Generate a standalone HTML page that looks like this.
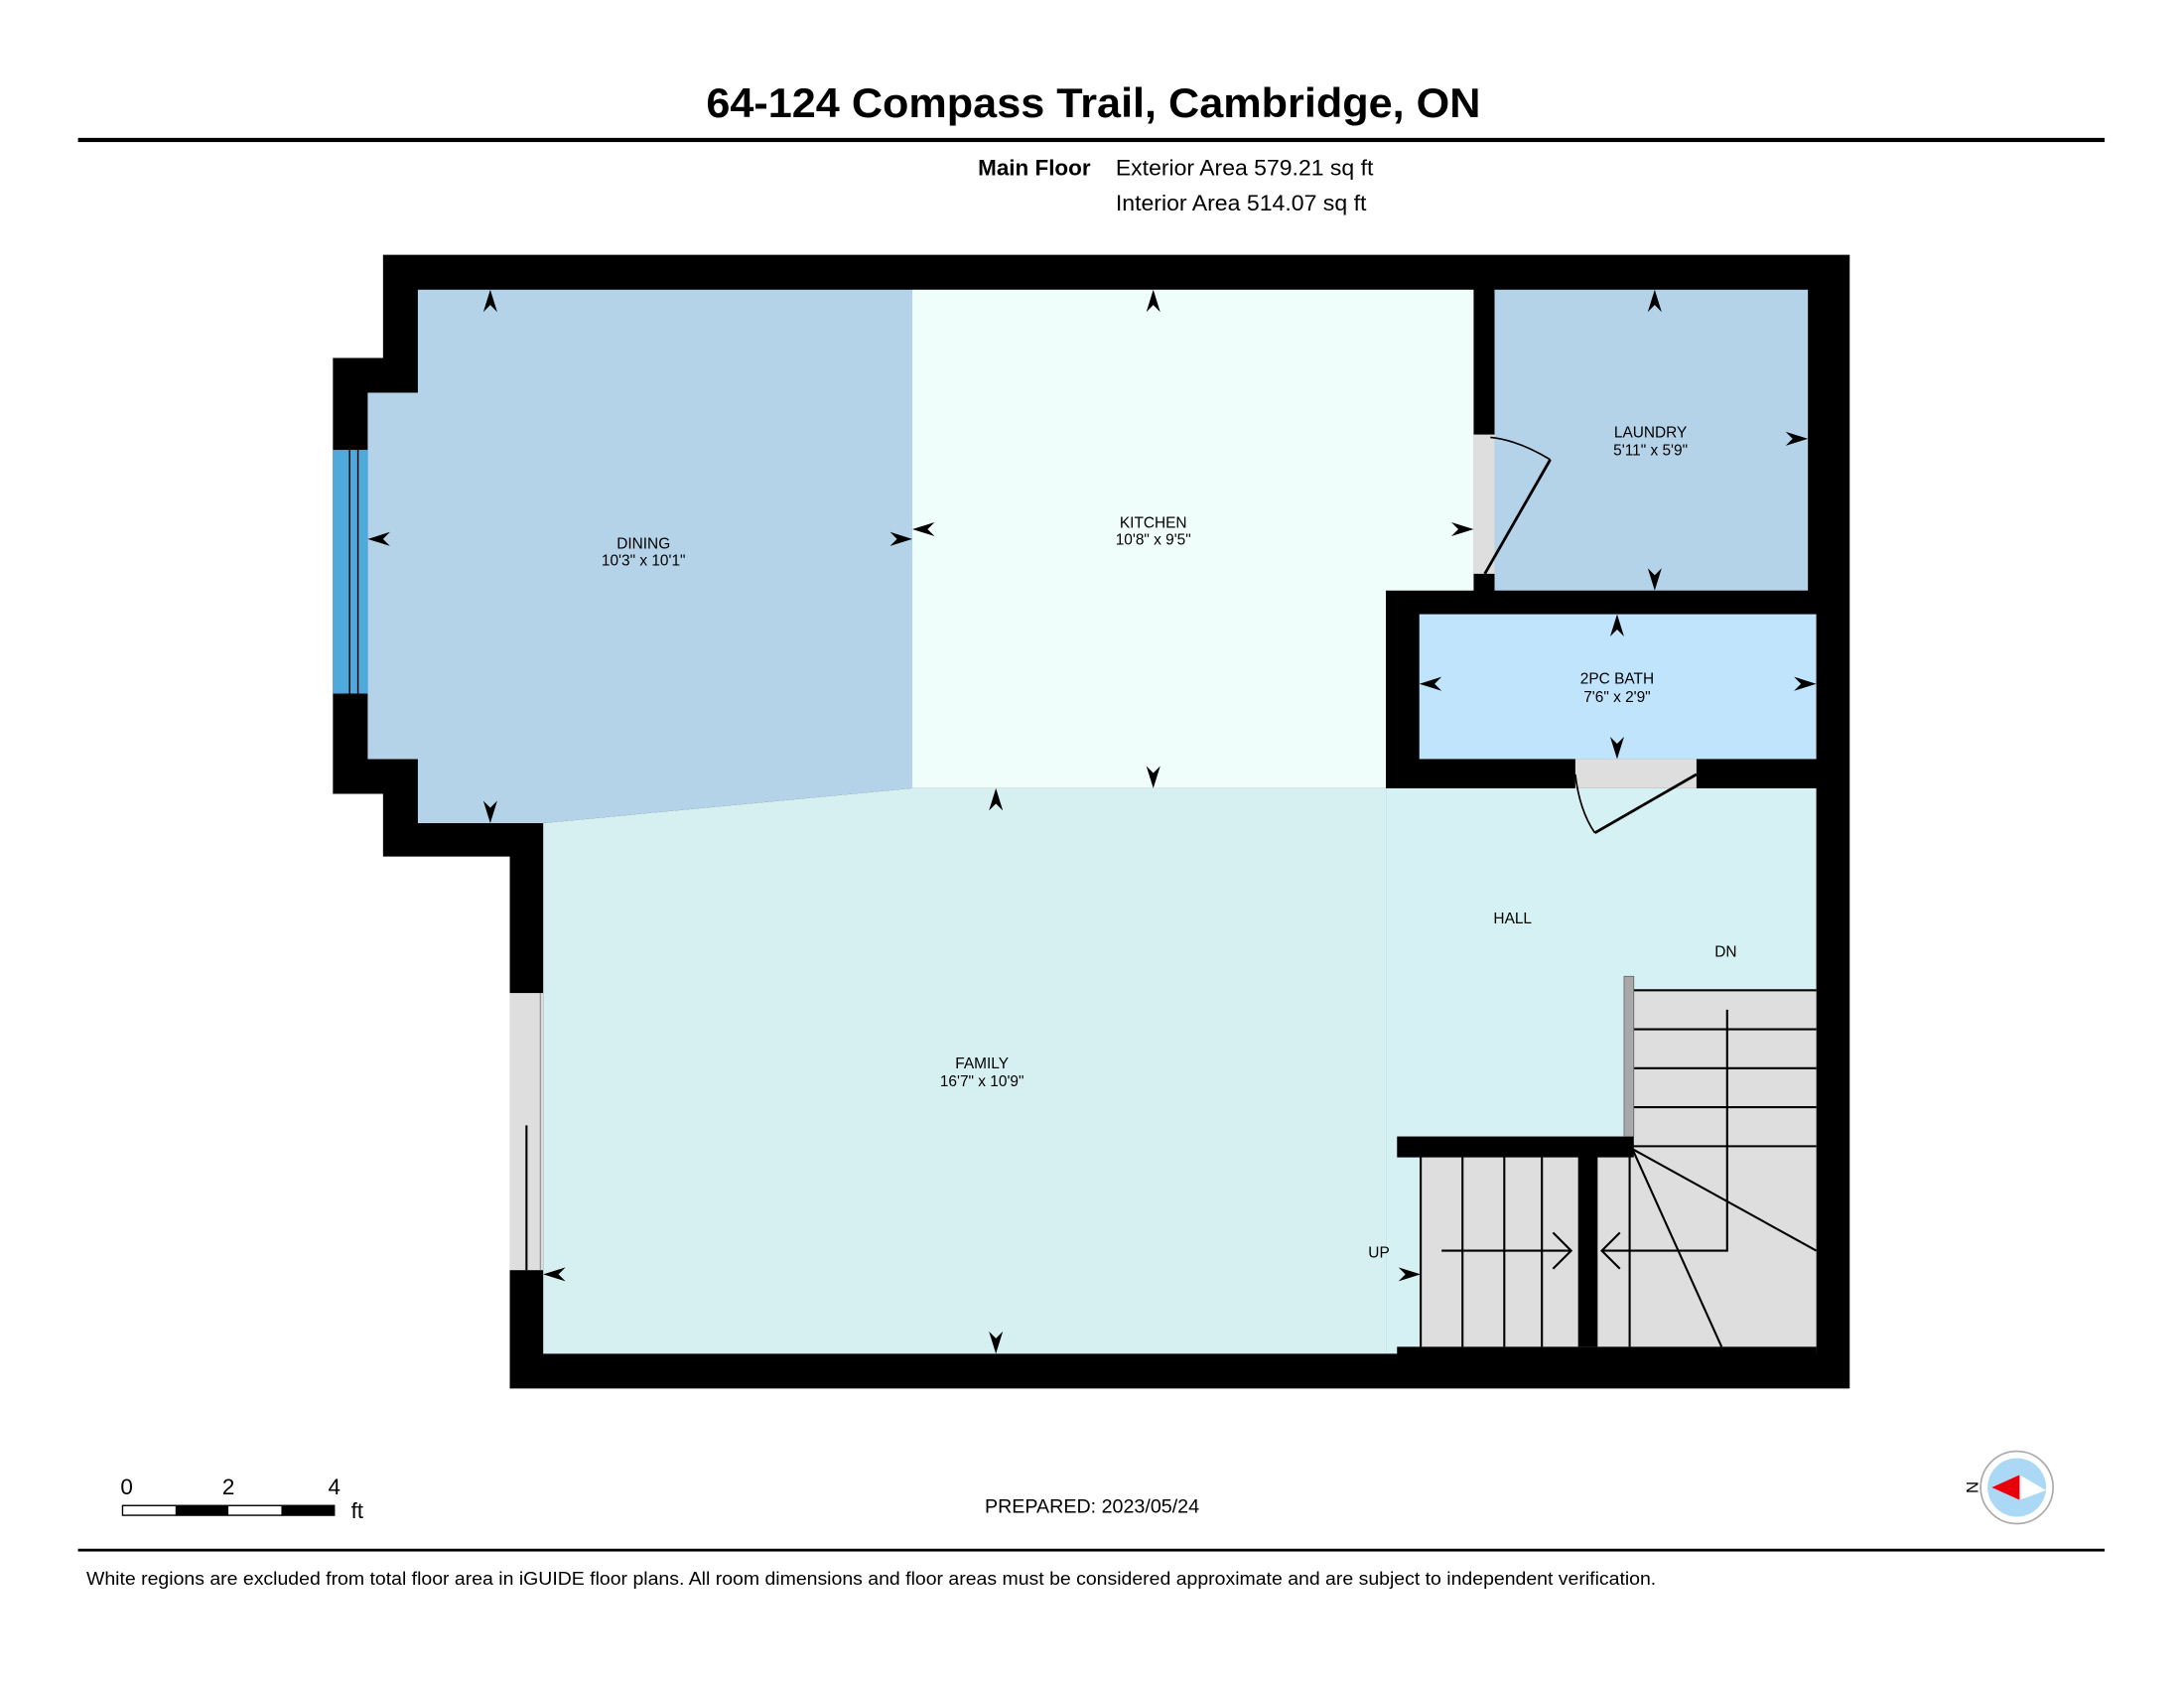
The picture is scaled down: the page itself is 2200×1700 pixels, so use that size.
<!DOCTYPE html>
<html><head><meta charset="utf-8"><style>html,body{margin:0;padding:0;background:#fff}svg{display:block}</style></head><body>
<svg width="2200" height="1700" viewBox="0 0 1568 1212" preserveAspectRatio="none" xmlns="http://www.w3.org/2000/svg" font-family="Liberation Sans, sans-serif">
<defs><path id="a" d="M0,0 L5,16 L0,11 L-5,16 Z" fill="#000"/></defs>
<text x="507" y="84" font-size="30" font-weight="bold" textLength="556" lengthAdjust="spacingAndGlyphs">64-124 Compass Trail, Cambridge, ON</text>
<rect x="56" y="99" width="1455" height="3" fill="#000"/>
<text x="783" y="126" text-anchor="end" font-size="16" font-weight="bold">Main Floor</text>
<text x="801" y="126" font-size="16" textLength="185" lengthAdjust="spacingAndGlyphs">Exterior Area 579.21 sq ft</text>
<text x="801" y="151" font-size="16" textLength="180" lengthAdjust="spacingAndGlyphs">Interior Area 514.07 sq ft</text>

<polygon points="275,183 1328,183 1328,997 366,997 366,615 275,615 275,570 239,570 239,257 275,257" fill="#000"/>
<polygon points="300,208 655,208 655,566 390,591 300,591 300,545 264,545 264,282 300,282" fill="#b4d3e8"/>
<polygon points="655,208 1058,208 1058,424 995,424 995,566 655,566" fill="#effdfb"/>
<rect x="1073" y="208" width="225" height="216" fill="#b4d3e8"/>
<rect x="1019" y="441" width="285" height="104" fill="#bfe4fb"/>
<polygon points="390,591 655,566 995,566 995,972 390,972" fill="#d6f0f2"/>
<rect x="995" y="566" width="309" height="406" fill="#d6f1f3"/>
<rect x="366" y="713" width="24" height="199" fill="#dedede"/>
<line x1="378" y1="808" x2="378" y2="912" stroke="#000" stroke-width="1.5"/>
<line x1="388" y1="713" x2="388" y2="912" stroke="#999" stroke-width="1"/>
<rect x="239" y="323" width="25" height="175" fill="#4eaadd"/>
<line x1="251" y1="323" x2="251" y2="498" stroke="#000" stroke-width="1"/>
<line x1="257" y1="323" x2="257" y2="498" stroke="#000" stroke-width="1"/>
<rect x="1058" y="312" width="15" height="100" fill="#dedede"/>
<line x1="1066" y1="412" x2="1113" y2="330" stroke="#000" stroke-width="2"/>
<path d="M1113,330 Q1090,316 1070,314" fill="none" stroke="#000" stroke-width="1.2"/>
<rect x="1131" y="545" width="87" height="21" fill="#dedede"/>
<line x1="1145" y1="598" x2="1218" y2="556" stroke="#000" stroke-width="2"/>
<path d="M1131,556 Q1134,582 1145,598" fill="none" stroke="#000" stroke-width="1.2"/>
<rect x="1172" y="711" width="132" height="119" fill="#dedede"/>
<rect x="1019" y="830" width="285" height="137" fill="#dedede"/>
<rect x="1003" y="816" width="170" height="15" fill="#000"/>
<rect x="1133" y="830" width="14" height="137" fill="#000"/>
<rect x="1003" y="967" width="301" height="8" fill="#000"/>
<g stroke="#000" stroke-width="1.5" fill="none">
<line x1="1020" y1="830" x2="1020" y2="967"/>
<line x1="1050" y1="830" x2="1050" y2="967"/>
<line x1="1080" y1="830" x2="1080" y2="967"/>
<line x1="1107" y1="830" x2="1107" y2="967"/>
<line x1="1170" y1="830" x2="1170" y2="967"/>
<line x1="1172" y1="711" x2="1304" y2="711"/>
<line x1="1172" y1="739" x2="1304" y2="739"/>
<line x1="1172" y1="767" x2="1304" y2="767"/>
<line x1="1172" y1="795" x2="1304" y2="795"/>
<line x1="1172" y1="823" x2="1304" y2="823"/>
<line x1="1172" y1="825" x2="1236" y2="967"/>
<line x1="1172" y1="825" x2="1304" y2="898"/>
<polyline points="1240,725 1240,898 1150,898"/>
<polyline points="1163,885 1150,898 1163,911"/>
<line x1="1035" y1="898" x2="1128" y2="898"/>
<polyline points="1115,885 1128,898 1115,911"/>
</g>
<rect x="1166" y="701" width="7" height="115" fill="#a8a8a8" stroke="#555" stroke-width="0.5"/>
<use href="#a" transform="translate(352,208)"/>
<use href="#a" transform="translate(264,387) rotate(-90)"/>
<use href="#a" transform="translate(655,387) rotate(90)"/>
<use href="#a" transform="translate(352,591) rotate(180)"/>
<use href="#a" transform="translate(828,208)"/>
<use href="#a" transform="translate(655,380) rotate(-90)"/>
<use href="#a" transform="translate(1058,380) rotate(90)"/>
<use href="#a" transform="translate(828,566) rotate(180)"/>
<use href="#a" transform="translate(1188,208)"/>
<use href="#a" transform="translate(1298,315) rotate(90)"/>
<use href="#a" transform="translate(1188,424) rotate(180)"/>
<use href="#a" transform="translate(1161,441)"/>
<use href="#a" transform="translate(1019,491) rotate(-90)"/>
<use href="#a" transform="translate(1304,491) rotate(90)"/>
<use href="#a" transform="translate(1161,545) rotate(180)"/>
<use href="#a" transform="translate(715,566)"/>
<use href="#a" transform="translate(390,915) rotate(-90)"/>
<use href="#a" transform="translate(715,972) rotate(180)"/>
<use href="#a" transform="translate(1020,915) rotate(90)"/>
<g font-size="11" text-anchor="middle">
<text x="462" y="394">DINING</text><text x="462" y="406">10'3" x 10'1"</text>
<text x="828" y="379">KITCHEN</text><text x="828" y="391">10'8" x 9'5"</text>
<text x="1185" y="314">LAUNDRY</text><text x="1185" y="327">5'11" x 5'9"</text>
<text x="1161" y="491">2PC BATH</text><text x="1161" y="504">7'6" x 2'9"</text>
<text x="705" y="767">FAMILY</text><text x="705" y="780">16'7" x 10'9"</text>
<text x="1086" y="663">HALL</text>
<text x="1239" y="687">DN</text>
<text x="990" y="903">UP</text>
</g>
<g font-size="16">
<text x="91" y="1073" text-anchor="middle">0</text>
<text x="164" y="1073" text-anchor="middle">2</text>
<text x="240" y="1073" text-anchor="middle">4</text>
<text x="252" y="1090">ft</text>
</g>
<rect x="88" y="1081" width="152" height="7" fill="#fff" stroke="#000" stroke-width="1"/>
<rect x="126" y="1081" width="38" height="7" fill="#000"/>
<rect x="202" y="1081" width="38" height="7" fill="#000"/>
<text x="707" y="1086" font-size="14" textLength="154" lengthAdjust="spacingAndGlyphs">PREPARED: 2023/05/24</text>
<circle cx="1448" cy="1068" r="26" fill="#fff" stroke="#aaa" stroke-width="1.2"/>
<circle cx="1448" cy="1068" r="21" fill="#aad8f5"/>
<polygon points="1430,1068 1450,1059 1469,1070 1450,1077" fill="#fff"/>
<polygon points="1430,1068 1450,1059 1450,1077" fill="#e8000b"/>
<text x="1412" y="1068" font-size="12" transform="rotate(90 1412 1068)" text-anchor="middle">N</text>
<rect x="56" y="1112" width="1455" height="2" fill="#000"/>
<text x="62" y="1138" font-size="13" textLength="1127" lengthAdjust="spacingAndGlyphs">White regions are excluded from total floor area in iGUIDE floor plans. All room dimensions and floor areas must be considered approximate and are subject to independent verification.</text>
</svg>
</body></html>
